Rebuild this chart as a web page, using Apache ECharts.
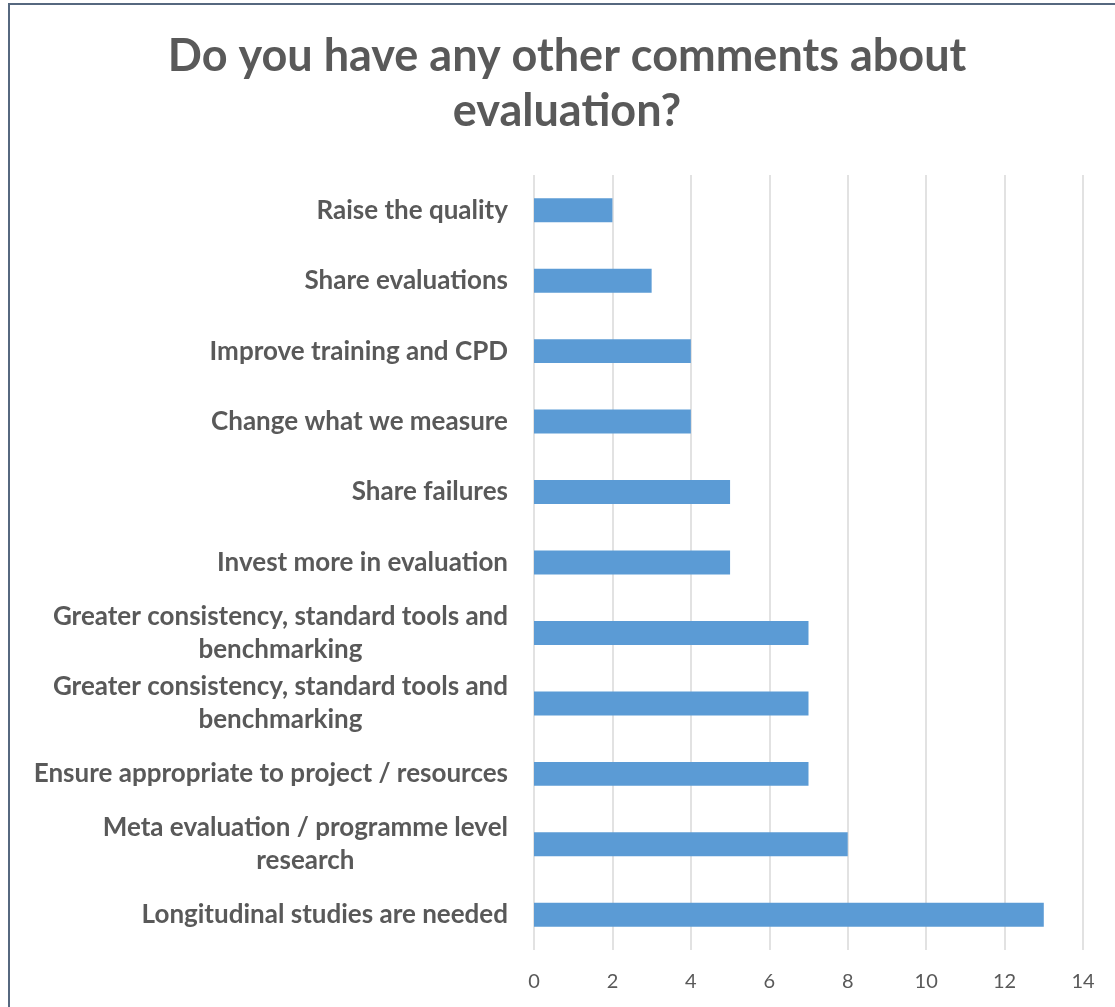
<!DOCTYPE html>
<html>
<head>
<meta charset="utf-8">
<title>Do you have any other comments about evaluation?</title>
<script src="https://cdn.jsdelivr.net/npm/echarts@6/dist/echarts.min.js"></script>
<style>
  html, body { margin: 0; padding: 0; background: #ffffff; overflow: hidden; }
  #chart { position: absolute; left: 0; top: 0; width: 1115px; height: 1007px; }
  #frame {
    position: absolute; left: 8px; top: 3px; width: 1200px; height: 1100px;
    border: 2px solid #56687f; box-sizing: border-box; pointer-events: none;
  }
</style>
</head>
<body>
<div id="chart"></div>
<div id="frame"></div>
<script>
// Survey answers, listed top to bottom
const categories = [
  'Raise the quality',
  'Share evaluations',
  'Improve training and CPD',
  'Change what we measure',
  'Share failures',
  'Invest more in evaluation',
  'Greater consistency, standard tools and\nbenchmarking',
  'Greater consistency, standard tools and\nbenchmarking',
  'Ensure appropriate to project / resources',
  'Meta evaluation / programme level\nresearch',
  'Longitudinal studies are needed'
];
const counts = [2, 3, 4, 4, 5, 5, 7, 7, 7, 8, 13];
const xTicks = [0, 14, 2]; // min, max, step

const FONT = 'Lato, "Open Sans", sans-serif';
const GREY = '#595959';

const chart = echarts.init(document.getElementById('chart'), null, { renderer: 'canvas' });
chart.setOption({
  backgroundColor: 'transparent',
  animation: false,
  title: {
    text: 'Do you have any other comments about\nevaluation?',
    left: 567,
    top: 29,
    padding: 0,
    textAlign: 'center',
    textStyle: {
      fontFamily: FONT,
      fontWeight: 'bold',
      fontSize: 45,
      lineHeight: 55,
      color: GREY
    }
  },
  grid: { left: 534, right: 32, top: 175, bottom: 57, containLabel: false },
  xAxis: {
    type: 'value',
    min: xTicks[0],
    max: xTicks[1],
    interval: xTicks[2],
    axisLine: { show: false },
    axisTick: { show: false },
    splitLine: { show: true, lineStyle: { color: '#d9d9d9', width: 1.5 } },
    axisLabel: {
      margin: 22,
      fontFamily: FONT,
      fontSize: 20,
      color: GREY
    }
  },
  yAxis: {
    type: 'category',
    data: categories,
    inverse: true,
    axisLine: { show: false },
    axisTick: { show: false },
    splitLine: { show: false },
    axisLabel: {
      interval: 0,
      margin: 26,
      align: 'right',
      formatter: (v) => v.split('\n').map(s => '{c|' + s + '}').join('\n'),
      rich: {
        c: {
          align: 'center',
          fontFamily: FONT,
          fontWeight: 'bold',
          fontSize: 26,
          lineHeight: 33,
          color: GREY
        }
      }
    }
  },
  series: [{
    type: 'bar',
    data: counts,
    barWidth: '34%',
    itemStyle: { color: '#5b9bd5' }
  }]
});
</script>
</body>
</html>
